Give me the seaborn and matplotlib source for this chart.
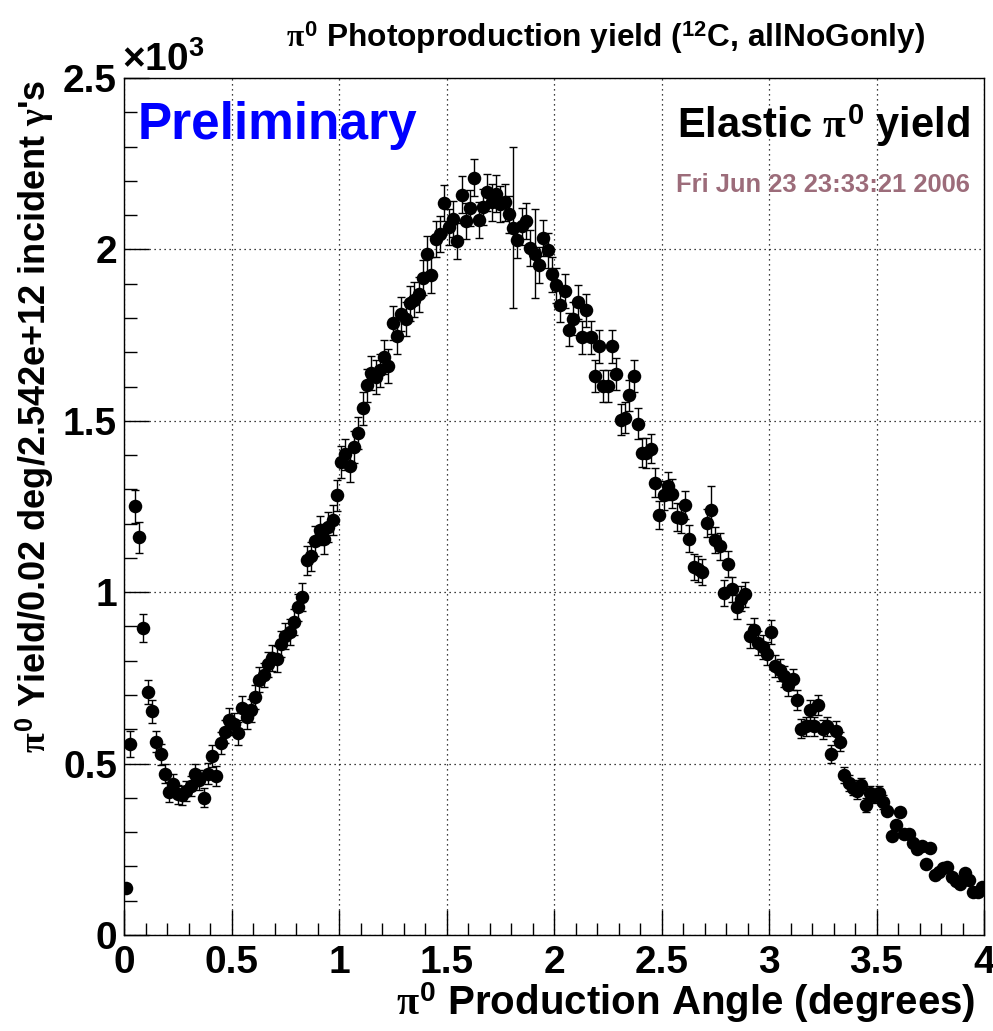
import numpy as np
import matplotlib
matplotlib.use('Agg')
import matplotlib.pyplot as plt
import seaborn as sns
import pandas as pd
from matplotlib.ticker import MultipleLocator, FuncFormatter

# ---- data ----
bin_width = 0.02
angle = np.round(np.arange(bin_width / 2, 4.0, bin_width), 3)  # bin centres (degrees)

yields = [
    138, 557, 1251, 1160, 896, 709, 652, 564, 527, 471,
    417, 440, 410, 408, 420, 434, 469, 452, 400, 471,
    522, 464, 559, 593, 627, 615, 588, 661, 636, 655,
    693, 745, 758, 790, 808, 805, 850, 872, 884, 913,
    956, 986, 1093, 1105, 1150, 1180, 1155, 1190, 1210, 1283,
    1380, 1402, 1367, 1424, 1465, 1537, 1603, 1639, 1628, 1647,
    1686, 1660, 1786, 1746, 1812, 1798, 1843, 1853, 1869, 1917,
    1987, 1926, 2031, 2045, 2135, 2065, 2089, 2024, 2159, 2082,
    2120, 2209, 2085, 2123, 2167, 2138, 2162, 2133, 2138, 2102,
    2063, 2026, 2067, 2082, 2005, 1987, 1955, 2034, 1997, 1927,
    1895, 1837, 1878, 1766, 1798, 1846, 1744, 1822, 1744, 1630,
    1717, 1601, 1601, 1717, 1636, 1503, 1509, 1574, 1630, 1492,
    1407, 1406, 1419, 1319, 1224, 1283, 1310, 1287, 1219, 1215,
    1254, 1156, 1074, 1069, 1059, 1202, 1239, 1152, 1134, 998,
    1083, 1008, 957, 981, 994, 872, 891, 852, 840, 821,
    884, 784, 773, 755, 729, 746, 685, 602, 609, 656,
    609, 671, 600, 609, 528, 595, 564, 466, 444, 430,
    420, 437, 379, 413, 405, 413, 389, 362, 289, 321,
    359, 296, 294, 267, 250, 259, 207, 253, 175, 185,
    194, 199, 170, 158, 149, 181, 160, 126, 126, 139,
]

errors = [
    12, 38, 48, 45, 41, 35, 33, 30, 30, 28,
    28, 29, 28, 28, 29, 29, 30, 30, 28, 30,
    31, 30, 32, 33, 34, 33, 33, 35, 34, 34,
    35, 36, 36, 37, 37, 37, 38, 38, 39, 39,
    40, 40, 42, 42, 43, 43, 43, 44, 44, 45,
    46, 46, 46, 47, 47, 48, 48, 49, 49, 49,
    49, 49, 50, 50, 50, 50, 51, 51, 51, 51,
    52, 52, 52, 52, 53, 53, 53, 52, 54, 53,
    53, 54, 53, 53, 54, 54, 54, 53, 54, 53,
    235, 52, 53, 53, 52, 130, 52, 52, 52, 51,
    50, 50, 50, 49, 49, 49, 48, 48, 48, 47,
    47, 46, 46, 47, 46, 45, 45, 45, 46, 44,
    43, 43, 43, 42, 41, 42, 42, 42, 41, 41,
    41, 40, 38, 38, 38, 40, 70, 39, 39, 37,
    38, 36, 36, 36, 36, 34, 34, 34, 34, 33,
    34, 32, 32, 31, 31, 31, 30, 28, 28, 29,
    28, 29, 28, 28, 26, 28, 27, 24, 23, 22,
    22, 22, 20, 21, 21, 21, 20, 12, 11, 11,
    12, 11, 11, 10, 10, 10, 9, 10, 8, 8,
    8, 8, 8, 8, 7, 8, 8, 7, 7, 7,
]

title = r'$\pi^{\mathbf{0}}$ Photoproduction yield ($^{\mathbf{12}}$C, allNoGonly)'
xlabel = r'$\pi^{\mathbf{0}}$ Production Angle (degrees)'
ylabel = r"$\pi^{\mathbf{0}}$ Yield/0.02 deg/2.542e+12 incident $\gamma$'s"

df = pd.DataFrame({'angle': angle, 'yield': yields, 'err': errors})

# ---- style ----
sns.set_style('ticks')
plt.rcParams['font.family'] = ['Liberation Sans', 'DejaVu Sans']
plt.rcParams['font.weight'] = 'bold'
plt.rcParams['text.color'] = 'black'
plt.rcParams['axes.labelcolor'] = 'black'
plt.rcParams['xtick.color'] = 'black'
plt.rcParams['ytick.color'] = 'black'
plt.rcParams['mathtext.fontset'] = 'custom'
plt.rcParams['mathtext.rm'] = 'Liberation Sans:bold'
plt.rcParams['mathtext.bf'] = 'Liberation Sans:bold'
plt.rcParams['mathtext.it'] = 'Liberation Serif'
plt.rcParams['mathtext.default'] = 'it'

W, H = 993, 1031
fig = plt.figure(figsize=(W / 100, H / 100), dpi=100)
ax = fig.add_axes([124 / W, 1 - 935 / H, 860 / W, 857 / H])

ax.errorbar(df['angle'], df['yield'], yerr=df['err'], fmt='none',
            ecolor='black', elinewidth=1.0, capsize=3, capthick=1.0, zorder=2)
sns.scatterplot(data=df, x='angle', y='yield', ax=ax, color='black',
                s=95, edgecolor='black', linewidth=0, zorder=3, legend=False)

ax.set_xlim(0, 4)
ax.set_ylim(0, 2500)
ax.set_xlabel('')
ax.set_ylabel('')

ax.xaxis.set_major_locator(MultipleLocator(0.5))
ax.xaxis.set_minor_locator(MultipleLocator(0.1))
ax.yaxis.set_major_locator(MultipleLocator(500))
ax.yaxis.set_minor_locator(MultipleLocator(100))
ax.xaxis.set_major_formatter(FuncFormatter(lambda v, p: f'{v:g}'))
ax.yaxis.set_major_formatter(FuncFormatter(lambda v, p: f'{v / 1000:g}'))

ax.tick_params(which='major', direction='in', length=18, width=1,
               labelsize=28, top=False, right=False, colors='black')
ax.tick_params(which='minor', direction='in', length=9, width=1,
               top=False, right=False, colors='black')
ax.tick_params(axis='x', which='major', pad=7)
ax.tick_params(axis='y', which='major', pad=5)
for lab in ax.get_xticklabels() + ax.get_yticklabels():
    lab.set_fontweight('bold')

ax.grid(True, which='major', linestyle=(0, (1, 3)), color='black', linewidth=0.9)
for sp in ax.spines.values():
    sp.set_visible(True)
    sp.set_color('black')
    sp.set_linewidth(1.0)

# ---- texts ----
fig.text(122 / W, 1 - 71 / H, r'$\times\mathbf{10^{3}}$', fontsize=28,
         ha='left', va='baseline')
fig.text(606 / W, 1 - 38 / H, title, ha='center', va='center', fontsize=22.8)
fig.text(138 / W, 1 - 139 / H, 'Preliminary', color='#0000ff', fontsize=37,
         ha='left', va='baseline')
fig.text(970 / W, 1 - 138 / H, r'Elastic $\pi^{\mathbf{0}}$ yield', fontsize=30,
         ha='right', va='baseline')
fig.text(970 / W, 1 - 192 / H, 'Fri Jun 23 23:33:21 2006', fontsize=18.4,
         color='#9c6c7a', ha='right', va='baseline')
fig.text(35 / W, 1 - 80 / H, ylabel, rotation=90, ha='center', va='top',
         fontsize=26)
fig.text(975 / W, 1 - 1003 / H, xlabel, ha='right', va='center', fontsize=29)

fig.savefig('out.png', dpi=100, facecolor='white')
